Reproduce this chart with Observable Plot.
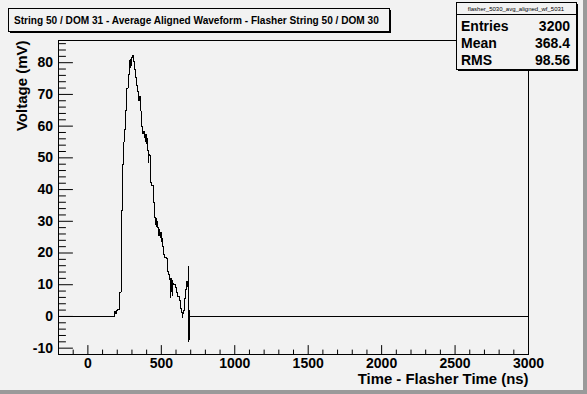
<!DOCTYPE html>
<html><head><meta charset="utf-8">
<script src="https://cdn.jsdelivr.net/npm/d3@7"></script>
<script src="https://cdn.jsdelivr.net/npm/@observablehq/plot@0.6"></script>
<style>
html,body{margin:0;padding:0;background:#f2f2f2;}
svg{display:block;}
</style></head><body><div id="chart"></div>
<script>
// Histogram bin edges (ns) and contents (mV)
const times = [-200,183,190,195,205,217,227,231,238,245,251,258,265,274,281,285,288,291,294,297,304,311,317,324,331,338,342,345,348,354,358,363,370,374,377,384,390,395,399,404,408,411,414,417,426,435,444,449,456,460,463,466,470,476,480,485,489,492,496,499,503,508,517,524,537,542,551,558,561,564,567,570,574,578,585,594,603,612,621,630,639,643,647,649,658,667,671,676,680,684,685,686,687,688,689,690,691,3000];
const volts = [0,1.5,1.0,2.0,2.2,7.7,17.7,33.5,48,55,59,64.8,72,76.2,78,80.6,78.5,81,79,81.7,82.4,80.4,78,75.2,72.7,71,68.5,70.5,68,69.5,64.8,60,59,57.5,58.3,56.5,55.2,57.5,54.5,56,52.2,48.5,51,50.6,42.2,41.3,37.9,35.9,31.1,29,31,28.5,30,27.9,25.5,27.3,25.5,24.8,26.5,23.5,24.5,22.2,19.5,18.7,18.3,14.3,13.2,11.6,6,12,8,11.5,6.5,10.5,10.1,9,7.4,6.3,5,2.5,1.1,-0.3,1.0,1.9,5.6,8.5,11.1,9.5,10.5,12,15.8,-7.9,4,-7.5,2,-6,0,0];

const xTicks = [0,500,1000,1500,2000,2500,3000];
const yTicks = [-10,0,10,20,30,40,50,60,70,80];
const xMinor = d3.range(-200,3001,100).filter(d => d % 500 !== 0);
const yMinor = d3.range(-12,87,2).filter(d => d % 10 !== 0);

const title = "String 50 / DOM 31 - Average Aligned Waveform - Flasher String 50 / DOM 30";
const xLabel = "Time - Flasher Time (ns)";
const yLabel = "Voltage (mV)";
const statsName = "flasher_5030_avg_aligned_wf_5031";
const statsLabels = ["Entries","Mean","RMS"];
const statsValues = ["3200","368.4","98.56"];

const data = times.map((t,i)=>({t, v: volts[i]}));
const FONT = '"Liberation Sans", Arial, Helvetica, sans-serif';
const tickShape = {draw(ctx, l){ ctx.moveTo(0,0); ctx.lineTo(0,-l); }};

const chart = Plot.plot({
  width:587, height:394, marginLeft:58, marginRight:59, marginTop:40, marginBottom:40,
  style:{background:"#f2f2f2", fontFamily:FONT, color:"black", overflow:"visible"},
  x:{domain:[-200,3000], axis:null},
  y:{domain:[-12,87], axis:null},
  marks:[
    Plot.line(data,{x:"t",y:"v",curve:"step-after",stroke:"black",strokeWidth:1,clip:true, shapeRendering:"crispEdges"}),
    Plot.vector(xMinor,{x:d=>d, frameAnchor:"bottom", length:4.5, rotate:0, anchor:"start", shape:tickShape, stroke:"black", strokeWidth:1}),
    Plot.vector(xTicks,{x:d=>d, frameAnchor:"bottom", length:9, rotate:0, anchor:"start", shape:tickShape, stroke:"black", strokeWidth:1}),
    Plot.vector(yMinor,{y:d=>d, frameAnchor:"left", length:7, rotate:90, anchor:"start", shape:tickShape, stroke:"black", strokeWidth:1}),
    Plot.vector(yTicks,{y:d=>d, frameAnchor:"left", length:14, rotate:90, anchor:"start", shape:tickShape, stroke:"black", strokeWidth:1}),
    Plot.frame({stroke:"black"}),
    Plot.text(xTicks,{x:d=>d, text:d=>String(d), frameAnchor:"bottom", lineAnchor:"bottom", dy:13.5, fontSize:14, fontWeight:"bold", fill:"black"}),
    Plot.text(yTicks,{y:d=>d, text:d=>String(d), frameAnchor:"left", textAnchor:"end", lineAnchor:"middle", dx:-5.5, fontSize:14, fontWeight:"bold", fill:"black"}),
    Plot.text([xLabel],{text:d=>d, frameAnchor:"bottom-right", textAnchor:"end", lineAnchor:"bottom", dy:29, fontSize:14.9, fontWeight:"bold", fill:"black"}),
    Plot.text([yLabel],{text:d=>d, frameAnchor:"top-left", rotate:-90, textAnchor:"end", lineAnchor:"bottom", dx:-32, fontSize:15, fontWeight:"bold", fill:"black"})
  ]
});
document.getElementById("chart").appendChild(chart);

const svg = d3.select(chart);
// canvas bevel
svg.append("rect").attr("x",0).attr("y",390).attr("width",587).attr("height",4).attr("fill","#9a9a9a");
svg.append("rect").attr("x",583).attr("y",0).attr("width",4).attr("height",394).attr("fill","#9a9a9a");

function box(x,y,w,h){
  svg.append("rect").attr("x",x+2).attr("y",y+2).attr("width",w).attr("height",h).attr("fill","black");
  svg.append("rect").attr("x",x+0.5).attr("y",y+0.5).attr("width",w).attr("height",h).attr("fill","#f2f2f2").attr("stroke","black");
}
// title box
box(8,8,381,23);
svg.append("text").attr("x",14).attr("y",23.5).attr("text-anchor","start").attr("font-family",FONT).attr("font-weight","bold")
  .attr("font-size",10.1).attr("fill","black").text(title);

// stats box
box(456,2,120,67);
svg.append("line").attr("x1",456).attr("x2",576).attr("y1",14.5).attr("y2",14.5).attr("stroke","black");
svg.append("text").attr("x",516).attr("y",11).attr("text-anchor","middle").attr("font-family",FONT)
  .attr("font-size",6).attr("fill","black").text(statsName);
const baselines = [30.5,47.5,64.5];
statsLabels.forEach((s,i)=>{
  svg.append("text").attr("x",461).attr("y",baselines[i]).attr("text-anchor","start").attr("font-family",FONT).attr("font-weight","bold")
    .attr("font-size",14).attr("fill","black").text(s);
  svg.append("text").attr("x",570).attr("y",baselines[i]).attr("text-anchor","end").attr("font-family",FONT).attr("font-weight","bold")
    .attr("font-size",14).attr("fill","black").text(statsValues[i]);
});
</script></body></html>
